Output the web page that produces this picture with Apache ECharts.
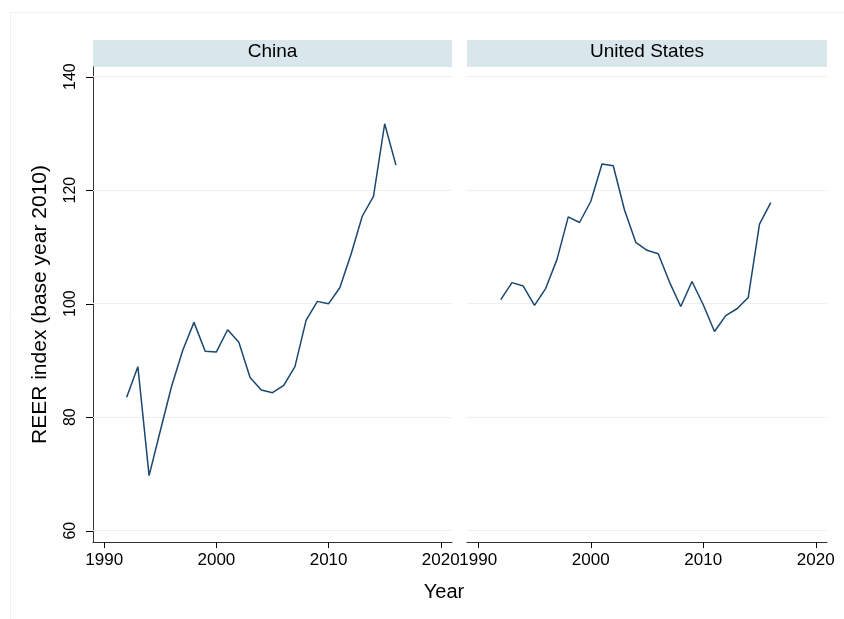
<!DOCTYPE html>
<html>
<head>
<meta charset="utf-8">
<script src="https://cdn.jsdelivr.net/npm/echarts@6/dist/echarts.min.js"></script>
<style>
  html, body { margin: 0; padding: 0; background: #fff; }
  #main { width: 844px; height: 619px; }
</style>
</head>
<body>
<div id="main"></div>
<script>
// panels and data
var panels = ['China', 'United States'];
var years = [1992, 1993, 1994, 1995, 1996, 1997, 1998, 1999, 2000, 2001, 2002, 2003, 2004,
  2005, 2006, 2007, 2008, 2009, 2010, 2011, 2012, 2013, 2014, 2015, 2016];
var china = [83.5, 88.9, 69.7, 77.6, 85.4, 91.8, 96.7, 91.6, 91.5, 95.4, 93.2, 87.0, 84.8,
  84.3, 85.6, 88.9, 97.1, 100.4, 100.0, 102.8, 108.7, 115.4, 118.9, 131.7, 124.4];
var usa = [100.7, 103.7, 103.1, 99.7, 102.7, 107.8, 115.3, 114.3, 118.0, 124.6, 124.3, 116.5, 110.8,
  109.4, 108.8, 103.8, 99.5, 103.9, 99.8, 95.1, 97.9, 99.1, 101.1, 114.0, 117.8];
var xTicks = [1990, 2000, 2010, 2020];
var yTicks = [60, 80, 100, 120, 140];

var font = 'Liberation Sans, Arial, sans-serif';
var navy = '#1a476f';
var gridCol = '#e9eff2';
var xMin = 1989, xMax = 2021;

function pairs(vals) {
  return years.map(function (y, i) { return [y, vals[i]]; });
}

var grids = [
  { left: 93, top: 67, width: 359, height: 475 },
  { left: 467, top: 67, width: 360, height: 475 }
];

var xAxes = grids.map(function (g, i) {
  return {
    type: 'value', gridIndex: i, min: xMin, max: xMax,
    axisLine: { show: true, lineStyle: { color: '#333', width: 1 } },
    axisTick: { show: true, length: 6, customValues: xTicks, lineStyle: { color: '#000', width: 1 } },
    axisLabel: { customValues: xTicks, color: '#000', fontSize: 17, fontFamily: font, margin: 10,
      formatter: function (v) { return String(v); } },
    splitLine: { show: false }
  };
});

var yAxes = grids.map(function (g, i) {
  return {
    type: 'value', gridIndex: i, min: 58, max: 141.7,
    name: i === 0 ? 'REER index (base year 2010)' : '',
    nameLocation: 'middle', nameGap: 42,
    nameTextStyle: { fontSize: 21, fontFamily: font, color: '#000' },
    axisLine: { show: i === 0, onZero: false, lineStyle: { color: '#333', width: 1 } },
    axisTick: { show: false },
    axisLabel: { show: i === 0, customValues: yTicks, rotate: 90, color: '#000', fontSize: 16, fontFamily: font, margin: 14 },
    splitLine: { show: false }
  };
});

var series = [];
[china, usa].forEach(function (vals, i) {
  // gridlines under the data line
  series.push({
    type: 'line', xAxisIndex: i, yAxisIndex: i, data: [], z: 1,
    markLine: {
      silent: true, symbol: 'none', label: { show: false },
      lineStyle: { color: gridCol, type: 'solid', width: 1 },
      data: yTicks.map(function (v) { return { yAxis: v }; })
    }
  });
  series.push({
    type: 'line', xAxisIndex: i, yAxisIndex: i, z: 5,
    data: pairs(vals), showSymbol: false,
    lineStyle: { color: navy, width: 1.5 }
  });
});
// y ticks on the left panel's axis, drawn outside the grid
series.push({
  type: 'custom', xAxisIndex: 0, yAxisIndex: 0, clip: false, silent: true, z: 6,
  data: yTicks.map(function (v) { return [xMin, v]; }),
  renderItem: function (params, api) {
    var p = api.coord([api.value(0), api.value(1)]);
    var y = Math.round(p[1]) + 0.5;
    return {
      type: 'line',
      shape: { x1: p[0] - 7, y1: y, x2: p[0], y2: y },
      style: { stroke: '#000', lineWidth: 1 }
    };
  }
});

var graphics = [
  { type: 'rect', shape: { x: 10.5, y: 12.5, width: 860, height: 640 },
    style: { fill: 'none', stroke: '#eef2f4', lineWidth: 1 }, z: -1 }
];
grids.forEach(function (g, i) {
  graphics.push({ type: 'rect', shape: { x: g.left, y: 40, width: g.width, height: 27 },
    style: { fill: '#d9e6ec' } });
  graphics.push({ type: 'text', x: g.left + g.width / 2, y: 52,
    style: { text: panels[i], fill: '#000', font: '19px ' + font, align: 'center', verticalAlign: 'middle' } });
});
graphics.push({ type: 'text', x: 444, y: 592,
  style: { text: 'Year', fill: '#000', font: '20px ' + font, align: 'center', verticalAlign: 'middle' } });

var myChart = echarts.init(document.getElementById('main'));
myChart.setOption({
  animation: false,
  backgroundColor: '#fff',
  grid: grids,
  xAxis: xAxes,
  yAxis: yAxes,
  series: series,
  graphic: graphics
});
</script>
</body>
</html>
